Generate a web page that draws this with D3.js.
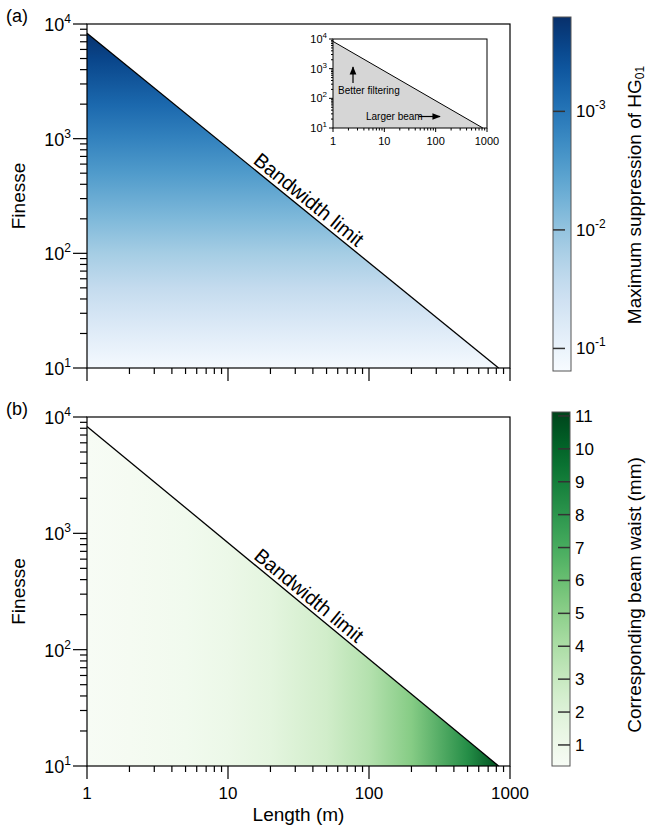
<!DOCTYPE html>
<html><head><meta charset="utf-8">
<script src="https://cdn.jsdelivr.net/npm/d3@7"></script>
<style>
body{margin:0;background:#fff}
text{font-family:"Liberation Sans",Arial,Helvetica,sans-serif;fill:#000}
</style>
</head><body>
<svg id="c" width="648" height="828"></svg>
<script>
// ---------- data ----------
const lengthTicks = [1, 10, 100, 1000];
const finesseTicks = [10, 100, 1000, 10000];
const bwLength = [1, 830];          // bandwidth limit line (m)
const bwFinesse = [8300, 10];       // bandwidth limit line (finesse)
const supFinesse = [10, 20, 50, 100, 200, 500, 1000, 2000, 5000, 8300];
const suppression = [0.14, 0.07, 0.028, 0.014, 0.007, 0.0028, 0.0014, 0.0007, 0.00028, 0.00017];
const waistLength = [1, 2, 5, 10, 20, 50, 100, 200, 500, 830];
const waist = [0.37, 0.52, 0.83, 1.17, 1.65, 2.6, 3.7, 5.2, 8.3, 10.7];
const supTicks = [0.001, 0.01, 0.1];
const supTickExp = ["-3", "-2", "-1"];
const waistTicks = [1, 2, 3, 4, 5, 6, 7, 8, 9, 10, 11];
const supDomain = [0.00016, 0.155];
const waistDomain = [0.36, 11.12];
const finesseExp = ["1", "2", "3", "4"];

const svg = d3.select("#c");
const defs = svg.append("defs");
const X0 = 87, X1 = 510;

const supColor = d3.scaleSequentialLog(d3.interpolateBlues).domain([supDomain[1], supDomain[0]]);
const waistColor = d3.scaleSequential(d3.interpolateGreens).domain(waistDomain);

function minorTicks(lo, hi) {
  const out = [];
  for (let d = lo; d < hi; d *= 10) for (let k = 2; k <= 9; k++) out.push(d * k);
  return out;
}

function panel(id, top, bottom, showXLabels) {
  const x = d3.scaleLog().domain([1, 1000]).range([X0, X1]);
  const y = d3.scaleLog().domain([10, 10000]).range([bottom, top]);
  const g = svg.append("g");
  const poly = [[bwLength[0], bwFinesse[0]], [bwLength[1], bwFinesse[1]], [bwLength[0], bwFinesse[1]]];
  const grad = defs.append("linearGradient").attr("id", "grad" + id).attr("gradientUnits", "userSpaceOnUse");
  if (id === "a") {
    const ya = y(10), yb = y(10000);
    grad.attr("x1", 0).attr("x2", 0).attr("y1", ya).attr("y2", yb);
    supFinesse.forEach((f, i) => {
      grad.append("stop").attr("offset", (ya - y(f)) / (ya - yb)).attr("stop-color", supColor(suppression[i]));
    });
  } else {
    const xa = x(1), xb = x(1000);
    grad.attr("y1", 0).attr("y2", 0).attr("x1", xa).attr("x2", xb);
    waistLength.forEach((l, i) => {
      grad.append("stop").attr("offset", (x(l) - xa) / (xb - xa)).attr("stop-color", waistColor(waist[i]));
    });
  }
  g.append("path").attr("d", "M" + poly.map(p => [x(p[0]), y(p[1])].join(",")).join("L") + "Z")
    .attr("fill", "url(#grad" + id + ")");
  g.append("line").attr("x1", x(bwLength[0])).attr("y1", y(bwFinesse[0]))
    .attr("x2", x(bwLength[1])).attr("y2", y(bwFinesse[1])).attr("stroke", "#000").attr("stroke-width", 1.3);
  g.append("rect").attr("x", X0).attr("y", top).attr("width", X1 - X0).attr("height", bottom - top)
    .attr("fill", "none").attr("stroke", "#000").attr("stroke-width", 1.2);
  finesseTicks.forEach(t => g.append("line").attr("x1", X0 - 14).attr("x2", X0).attr("y1", y(t)).attr("y2", y(t)).attr("stroke", "#000").attr("stroke-width", 1.2));
  minorTicks(10, 10000).forEach(t => g.append("line").attr("x1", X0 - 7).attr("x2", X0).attr("y1", y(t)).attr("y2", y(t)).attr("stroke", "#000").attr("stroke-width", 1.2));
  finesseTicks.forEach((t, i) => {
    const tx = g.append("text").attr("x", X0 - 16).attr("y", y(t) + 7).attr("text-anchor", "end").style("font-size", "18px");
    tx.append("tspan").text("10");
    tx.append("tspan").attr("dy", -8).style("font-size", "12px").text(finesseExp[i]);
  });
  lengthTicks.forEach(t => g.append("line").attr("x1", x(t)).attr("x2", x(t)).attr("y1", bottom).attr("y2", bottom + 13).attr("stroke", "#000").attr("stroke-width", 1.2));
  minorTicks(1, 1000).forEach(t => g.append("line").attr("x1", x(t)).attr("x2", x(t)).attr("y1", bottom).attr("y2", bottom + 6).attr("stroke", "#000").attr("stroke-width", 1.2));
  if (showXLabels) {
    lengthTicks.forEach(t => g.append("text").attr("x", x(t)).attr("y", bottom + 33).attr("text-anchor", "middle").style("font-size", "17px").text(t));
    g.append("text").attr("x", (X0 + X1) / 2).attr("y", bottom + 55).attr("text-anchor", "middle").style("font-size", "19px").text("Length (m)");
  }
  g.append("text").attr("transform", `translate(25,${(top + bottom) / 2}) rotate(-90)`).attr("text-anchor", "middle").style("font-size", "19px").text("Finesse");
  g.append("text").attr("x", 6).attr("y", top - 2).style("font-size", "18px").text("(" + id + ")");
  const xA = x(bwLength[0]), yA = y(bwFinesse[0]), xB = x(bwLength[1]), yB = y(bwFinesse[1]);
  const ang = Math.atan2(yB - yA, xB - xA) * 180 / Math.PI;
  const px = 302, py = yA + (px - xA) * (yB - yA) / (xB - xA);
  g.append("text").attr("transform", `translate(${px},${py}) rotate(${ang})`).attr("y", -4)
    .attr("text-anchor", "middle").style("font-size", "20px").text("Bandwidth limit");
  return {x, y};
}

panel("a", 24, 368, false);
panel("b", 417, 766, true);

// ---------- inset ----------
(function inset() {
  const ix = d3.scaleLog().domain([1, 1000]).range([333, 487]);
  const iy = d3.scaleLog().domain([10, 10000]).range([128, 39]);
  const g = svg.append("g");
  g.append("rect").attr("x", 333).attr("y", 39).attr("width", 154).attr("height", 89).attr("fill", "#fff");
  const poly = [[bwLength[0], bwFinesse[0]], [bwLength[1], bwFinesse[1]], [bwLength[0], bwFinesse[1]]];
  g.append("path").attr("d", "M" + poly.map(p => [ix(p[0]), iy(p[1])].join(",")).join("L") + "Z").attr("fill", "#d6d6d6");
  g.append("line").attr("x1", ix(bwLength[0])).attr("y1", iy(bwFinesse[0])).attr("x2", ix(bwLength[1])).attr("y2", iy(bwFinesse[1])).attr("stroke", "#000").attr("stroke-width", 1);
  g.append("rect").attr("x", 333).attr("y", 39).attr("width", 154).attr("height", 89).attr("fill", "none").attr("stroke", "#000").attr("stroke-width", 1);
  finesseTicks.forEach(t => g.append("line").attr("x1", 329).attr("x2", 333).attr("y1", iy(t)).attr("y2", iy(t)).attr("stroke", "#000"));
  minorTicks(10, 10000).forEach(t => g.append("line").attr("x1", 331).attr("x2", 333).attr("y1", iy(t)).attr("y2", iy(t)).attr("stroke", "#000"));
  lengthTicks.forEach(t => g.append("line").attr("x1", ix(t)).attr("x2", ix(t)).attr("y1", 128).attr("y2", 132).attr("stroke", "#000"));
  minorTicks(1, 1000).forEach(t => g.append("line").attr("x1", ix(t)).attr("x2", ix(t)).attr("y1", 128).attr("y2", 130.5).attr("stroke", "#000"));
  finesseTicks.forEach((t, i) => {
    const tx = g.append("text").attr("x", 327).attr("y", iy(t) + 4).attr("text-anchor", "end").style("font-size", "11px");
    tx.append("tspan").text("10");
    tx.append("tspan").attr("dy", -5).style("font-size", "8px").text(finesseExp[i]);
  });
  lengthTicks.forEach(t => g.append("text").attr("x", ix(t)).attr("y", 145).attr("text-anchor", "middle").style("font-size", "11px").text(t));
  g.append("text").attr("x", 338).attr("y", 94).style("font-size", "10px").text("Better filtering");
  g.append("text").attr("x", 366).attr("y", 120).style("font-size", "10px").text("Larger beam");
  defs.append("marker").attr("id", "arr").attr("viewBox", "0 0 10 10").attr("refX", 9).attr("refY", 5)
    .attr("markerWidth", 7).attr("markerHeight", 7).attr("orient", "auto")
    .append("path").attr("d", "M0,1L10,5L0,9Z").attr("fill", "#000");
  g.append("line").attr("x1", 353).attr("y1", 83).attr("x2", 353).attr("y2", 67).attr("stroke", "#000").attr("stroke-width", 1.2).attr("marker-end", "url(#arr)");
  g.append("line").attr("x1", 419).attr("y1", 116.5).attr("x2", 440).attr("y2", 116.5).attr("stroke", "#000").attr("stroke-width", 1.2).attr("marker-end", "url(#arr)");
})();

// ---------- colorbar a ----------
(function cbA() {
  const cx0 = 553, cx1 = 571;
  const s = d3.scaleLog().domain(supDomain).range([17, 371]);
  const grad = defs.append("linearGradient").attr("id", "cbA").attr("x1", 0).attr("x2", 0).attr("y1", 0).attr("y2", 1);
  d3.range(0, 1.0001, 0.05).forEach(o => {
    const v = s.invert(17 + o * (371 - 17));
    grad.append("stop").attr("offset", o).attr("stop-color", supColor(v));
  });
  svg.append("rect").attr("x", cx0).attr("y", 17).attr("width", cx1 - cx0).attr("height", 354)
    .attr("fill", "url(#cbA)").attr("stroke", "#555").attr("stroke-width", 1);
  supTicks.forEach((t, i) => {
    svg.append("line").attr("x1", cx0).attr("x2", cx0 + 12).attr("y1", s(t)).attr("y2", s(t)).attr("stroke", "#333").attr("stroke-width", 1.5);
    const tx = svg.append("text").attr("x", 576).attr("y", s(t) + 6).style("font-size", "17px");
    tx.append("tspan").text("10");
    tx.append("tspan").attr("dy", -8).style("font-size", "12px").text(supTickExp[i]);
  });
  const tt = svg.append("text").attr("transform", "translate(641,195) rotate(-90)").attr("text-anchor", "middle").style("font-size", "19px");
  tt.append("tspan").text("Maximum suppression of HG");
  tt.append("tspan").attr("dy", 3).style("font-size", "12px").text("01");
})();

// ---------- colorbar b ----------
(function cbB() {
  const cx0 = 552, cx1 = 570;
  const s = d3.scaleLinear().domain(waistDomain).range([766, 412]);
  const grad = defs.append("linearGradient").attr("id", "cbB").attr("x1", 0).attr("x2", 0).attr("y1", 1).attr("y2", 0);
  d3.range(0, 1.0001, 0.05).forEach(o => {
    const v = waistDomain[0] + o * (waistDomain[1] - waistDomain[0]);
    grad.append("stop").attr("offset", o).attr("stop-color", waistColor(v));
  });
  svg.append("rect").attr("x", cx0).attr("y", 412).attr("width", cx1 - cx0).attr("height", 354)
    .attr("fill", "url(#cbB)").attr("stroke", "#555").attr("stroke-width", 1);
  waistTicks.forEach(t => {
    svg.append("line").attr("x1", cx1 - 12).attr("x2", cx1).attr("y1", s(t)).attr("y2", s(t)).attr("stroke", "#333").attr("stroke-width", 1.5);
    svg.append("text").attr("x", 575).attr("y", s(t) + 6).style("font-size", "17px").text(t);
  });
  svg.append("text").attr("transform", "translate(641,595) rotate(-90)").attr("text-anchor", "middle").style("font-size", "19px")
    .text("Corresponding beam waist (mm)");
})();
</script>
</body></html>
